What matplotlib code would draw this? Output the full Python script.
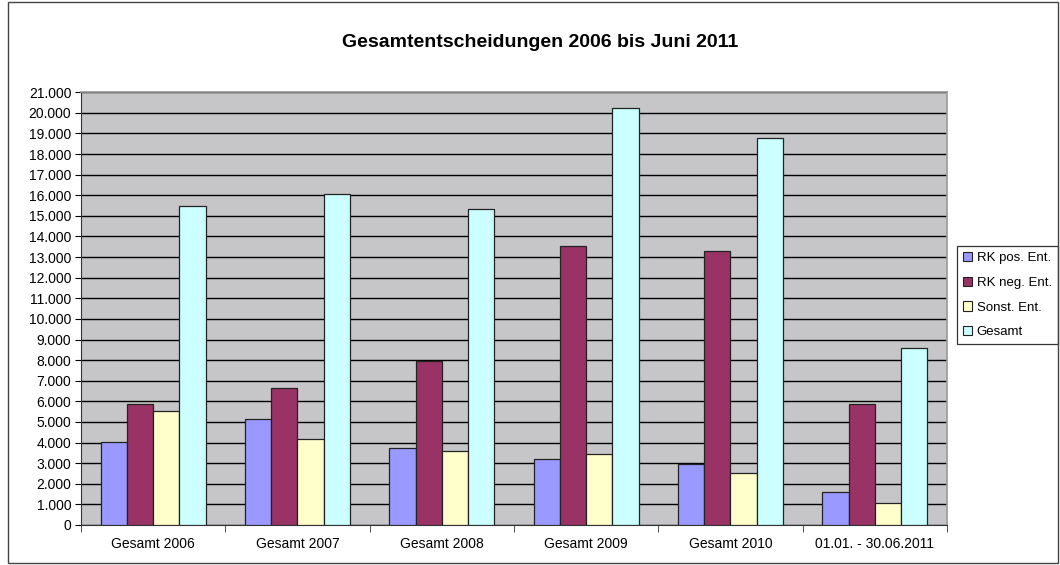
import numpy as np
import matplotlib.pyplot as plt
from matplotlib.ticker import FuncFormatter, FixedLocator
from matplotlib.patches import Rectangle

plt.rcParams['font.family'] = ['Liberation Sans', 'DejaVu Sans']

categories = ["Gesamt 2006", "Gesamt 2007", "Gesamt 2008",
              "Gesamt 2009", "Gesamt 2010", "01.01. - 30.06.2011"]
rk_pos = [4030, 5160, 3720, 3200, 2940, 1620]
rk_neg = [5870, 6630, 7960, 13540, 13280, 5870]
sonst = [5550, 4160, 3590, 3460, 2510, 1050]
gesamt = [15500, 16070, 15310, 20240, 18790, 8590]

series = [("RK pos. Ent.", rk_pos, "#9999FF"),
          ("RK neg. Ent.", rk_neg, "#993366"),
          ("Sonst. Ent.", sonst, "#FFFFCC"),
          ("Gesamt", gesamt, "#CCFFFF")]

fig = plt.figure(figsize=(10.6, 5.65), dpi=100)
ax = fig.add_axes([0.0764, 0.0708, 0.817, 0.766])
ax.set_facecolor("#C6C6C8")

x = np.arange(len(categories))
w = 1 / 5.5
for i, (name, vals, col) in enumerate(series):
    ax.bar(x + (i - 1.5) * w, vals, w, color=col, edgecolor="#222222",
           linewidth=0.9, label=name, zorder=3)

ax.set_xlim(-0.5, len(categories) - 0.5)
ax.set_ylim(0, 21000)
ax.set_yticks(range(0, 21001, 1000))
ax.yaxis.set_major_formatter(FuncFormatter(lambda v, p: f"{int(v):,}".replace(",", ".")))
ax.yaxis.grid(True, color="black", linewidth=1.0, zorder=1)
ax.set_axisbelow(True)

ax.set_xticks(x)
ax.set_xticklabels(categories)
ax.xaxis.set_minor_locator(FixedLocator(np.arange(-0.5, len(categories), 1)))
ax.tick_params(axis="x", which="major", length=0, pad=9, labelsize=10)
ax.tick_params(axis="x", which="minor", length=5, direction="out", color="#333333")
ax.tick_params(axis="y", length=4, direction="out", labelsize=10, pad=3)

for s in ["top", "right"]:
    ax.spines[s].set_color("#9A9A9A")
    ax.spines[s].set_linewidth(1.2)
ax.spines["left"].set_color("#333333")
ax.spines["bottom"].set_color("#333333")

fig.text(0.51, 0.925, "Gesamtentscheidungen 2006 bis Juni 2011",
         ha="center", va="center", fontsize=14, fontweight="bold")

leg = ax.legend(loc="center left", bbox_to_anchor=(1.0115, 0.531), fontsize=9.5,
                frameon=True, fancybox=False, edgecolor="black",
                handlelength=0.7, handleheight=0.7, handletextpad=0.35,
                labelspacing=0.95, borderpad=0.45, borderaxespad=0)
leg.get_frame().set_linewidth(0.9)
for h in leg.legend_handles:
    h.set_linewidth(0.8)

fig.patches.append(Rectangle((0.008, 0.004), 0.99, 0.992, transform=fig.transFigure,
                             fill=False, edgecolor="#444444", linewidth=1.0))

fig.savefig("out.png", dpi=100)
